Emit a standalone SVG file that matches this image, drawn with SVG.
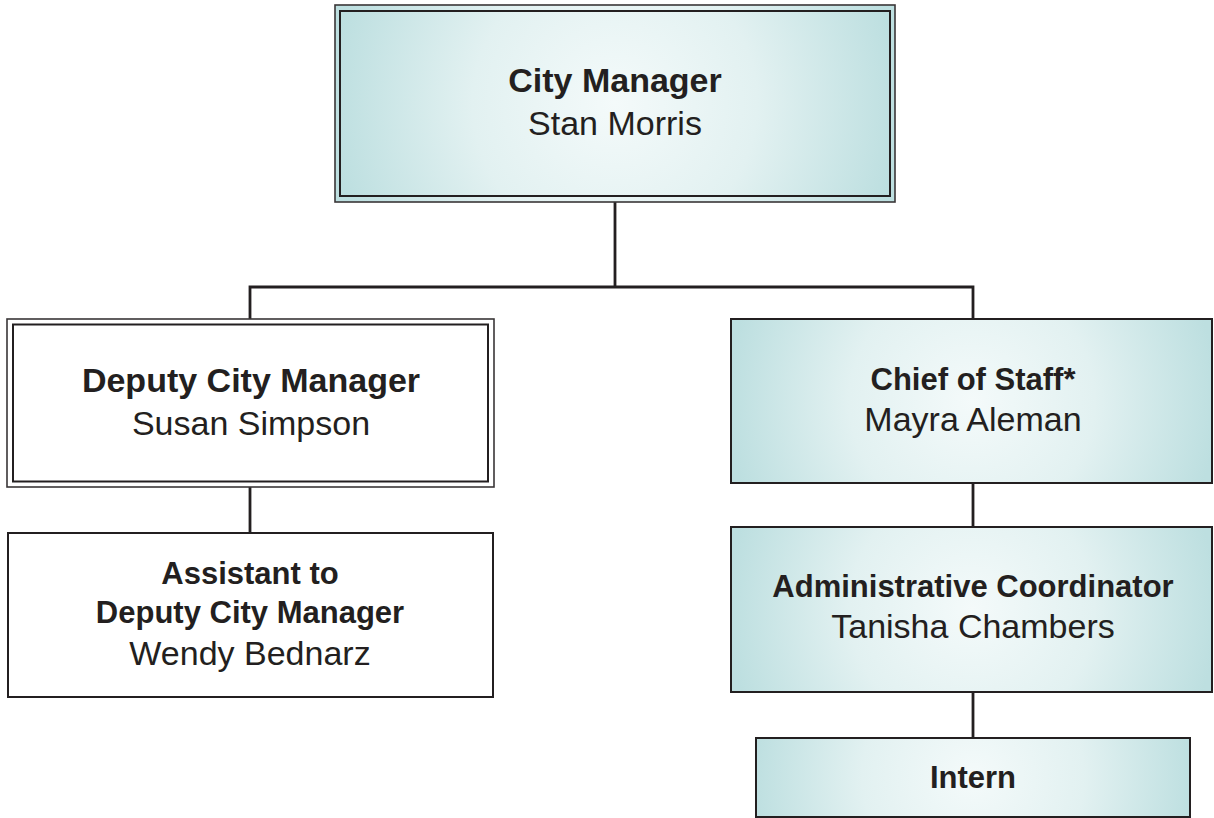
<svg xmlns="http://www.w3.org/2000/svg" width="1214" height="818" viewBox="0 0 1214 818">
  <defs>
    <!-- circular teal shading, one per shaded box so the falloff stays round -->
    <radialGradient id="fillCM" gradientUnits="userSpaceOnUse" cx="615" cy="103" r="285">
      <stop offset="0" stop-color="#f4fafa"/>
      <stop offset="0.5" stop-color="#e2f1f1"/>
      <stop offset="1" stop-color="#bddfe0"/>
    </radialGradient>
    <radialGradient id="fillCOS" gradientUnits="userSpaceOnUse" cx="972" cy="401" r="245">
      <stop offset="0" stop-color="#f4fafa"/>
      <stop offset="0.5" stop-color="#e2f1f1"/>
      <stop offset="1" stop-color="#bddfe0"/>
    </radialGradient>
    <radialGradient id="fillAC" gradientUnits="userSpaceOnUse" cx="972" cy="609" r="245">
      <stop offset="0" stop-color="#f4fafa"/>
      <stop offset="0.5" stop-color="#e2f1f1"/>
      <stop offset="1" stop-color="#bddfe0"/>
    </radialGradient>
    <radialGradient id="fillIN" gradientUnits="userSpaceOnUse" cx="973" cy="777" r="222">
      <stop offset="0" stop-color="#f4fafa"/>
      <stop offset="0.5" stop-color="#e2f1f1"/>
      <stop offset="1" stop-color="#bddfe0"/>
    </radialGradient>
    <style>
      .box { stroke: #231f20; stroke-width: 2; }
      .thin { stroke: #3a3637; stroke-width: 1.6; }
      .plain { fill: #ffffff; }
      .link { stroke: #231f20; stroke-width: 2.8; fill: none; stroke-linejoin: miter; }
      text { font-family: "Liberation Sans", Arial, Helvetica, sans-serif; fill: #231f20; text-anchor: middle; }
      .title { font-weight: bold; font-size: 34px; }
      .title-s { font-weight: bold; font-size: 31px; }
      .name { font-size: 34px; }
    </style>
  </defs>
  <rect width="1214" height="818" fill="#ffffff"/>

  <!-- reporting lines -->
  <g id="connectors">
    <path class="link" d="M615 202 V287 M250 319 V287 H973 V319"/>
    <path class="link" d="M250 487 V533"/>
    <path class="link" d="M973 483 V527"/>
    <path class="link" d="M973 692 V738"/>
  </g>

  <g id="city-manager">
    <rect class="thin" fill="url(#fillCM)" x="335" y="5" width="560" height="197"/>
    <rect class="box" fill="none" x="340" y="11" width="550" height="185"/>
    <text class="title" x="615" y="92">City Manager</text>
    <text class="name" x="615" y="135">Stan Morris</text>
  </g>

  <g id="deputy-city-manager">
    <rect class="thin plain" x="7" y="319" width="487" height="168"/>
    <rect class="box" fill="none" x="13" y="324.5" width="475" height="157"/>
    <text class="title" x="251" y="392">Deputy City Manager</text>
    <text class="name" x="251" y="435">Susan Simpson</text>
  </g>

  <g id="assistant-to-deputy">
    <rect class="box plain" x="8" y="533" width="485" height="164"/>
    <text class="title-s" x="250" y="584">Assistant to</text>
    <text class="title-s" x="250" y="623">Deputy City Manager</text>
    <text class="name" x="250" y="665">Wendy Bednarz</text>
  </g>

  <g id="chief-of-staff">
    <rect class="box" fill="url(#fillCOS)" x="731" y="319" width="481" height="164"/>
    <text class="title-s" x="973" y="390">Chief of Staff*</text>
    <text class="name" x="973" y="431">Mayra Aleman</text>
  </g>

  <g id="administrative-coordinator">
    <rect class="box" fill="url(#fillAC)" x="731" y="527" width="481" height="165"/>
    <text class="title-s" x="973" y="597">Administrative Coordinator</text>
    <text class="name" x="973" y="638">Tanisha Chambers</text>
  </g>

  <g id="intern">
    <rect class="box" fill="url(#fillIN)" x="756" y="738" width="434" height="79"/>
    <text class="title-s" x="973" y="788">Intern</text>
  </g>
</svg>
